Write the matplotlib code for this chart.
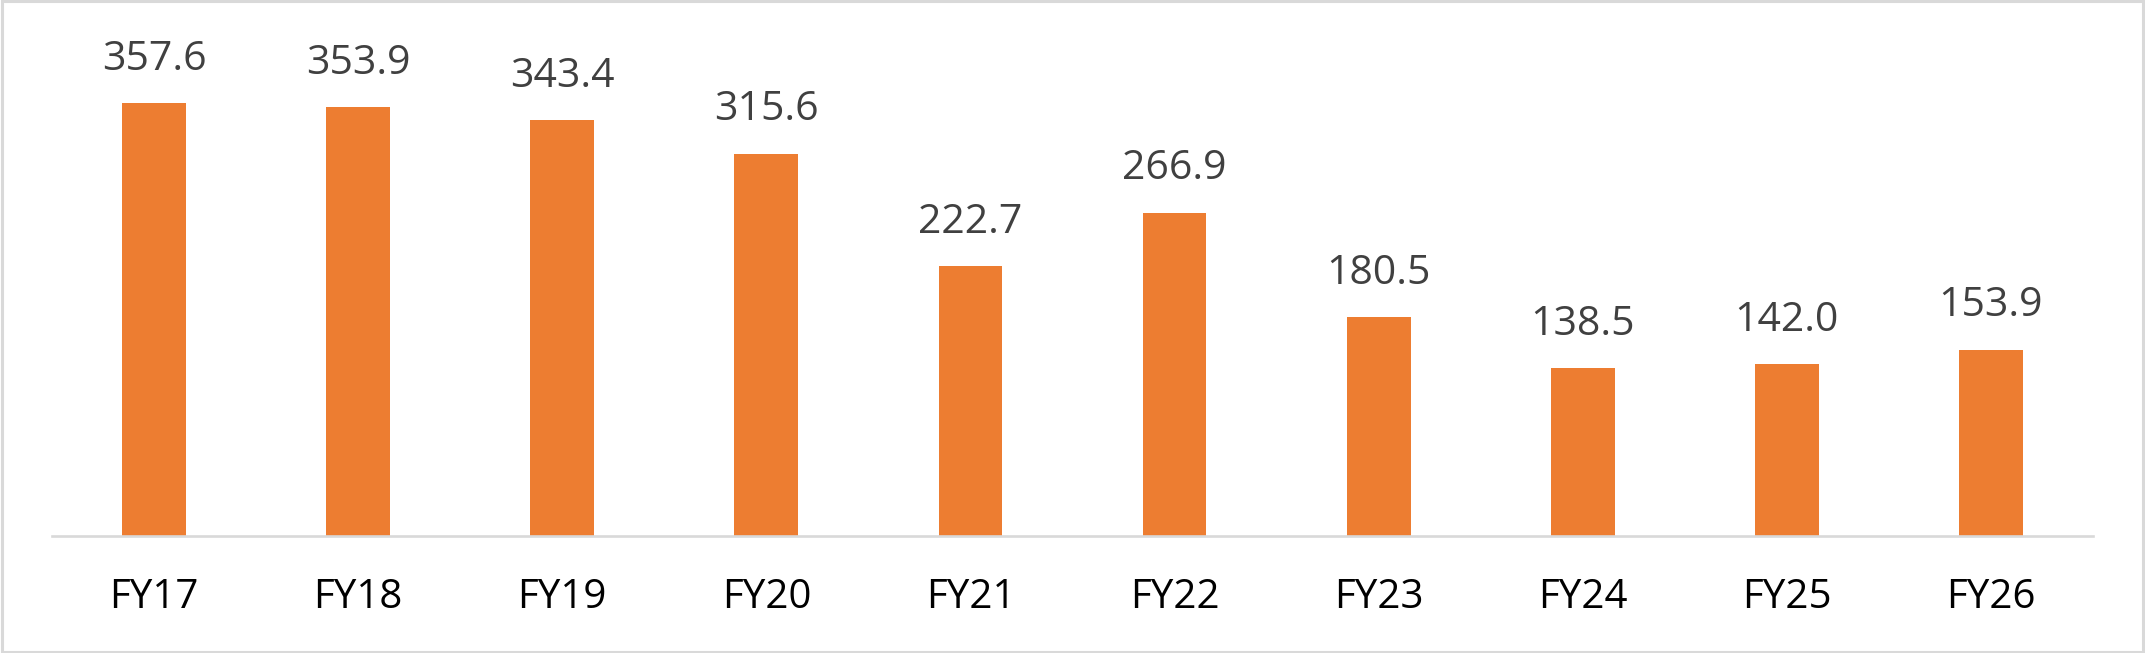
import matplotlib.pyplot as plt
from matplotlib.patches import Rectangle

years = ["FY17", "FY18", "FY19", "FY20", "FY21", "FY22", "FY23", "FY24", "FY25", "FY26"]
values = [357.6, 353.9, 343.4, 315.6, 222.7, 266.9, 180.5, 138.5, 142.0, 153.9]

plt.rcParams['font.family'] = ['Open Sans', 'DejaVu Sans']

W, H = 2145, 653
fig = plt.figure(figsize=(W / 100, H / 100), dpi=100)
ax_h = 520
ax = fig.add_axes([52 / W, 117 / H, 2041 / W, ax_h / H])

x = range(len(years))
bars = ax.bar(x, values, width=0.313, color="#ED7D31")

ax.set_xlim(-0.5, len(years) - 0.5)
ax.set_ylim(0, ax_h / 1.211)

for b, v in zip(bars, values):
    ax.annotate(f"{v:.1f}", (b.get_x() + b.get_width() / 2, v),
                xytext=(0, 24), textcoords="offset points",
                ha="center", va="baseline", fontsize=29.5, color="#404040")

ax.set_xticks(list(x))
ax.set_xticklabels(years, fontsize=29, color="black")
ax.tick_params(axis="x", length=0, pad=30)
ax.set_yticks([])
for side in ["top", "left", "right"]:
    ax.spines[side].set_visible(False)
ax.spines["bottom"].set_color("#D9D9D9")
ax.spines["bottom"].set_linewidth(1.9)

# chart border
fig.patches.append(Rectangle((0.0007, 0.002), 0.9986, 0.996, transform=fig.transFigure,
                             fill=False, edgecolor="#D9D9D9", linewidth=2.2))

fig.savefig("out.png", dpi=100, facecolor="white")
